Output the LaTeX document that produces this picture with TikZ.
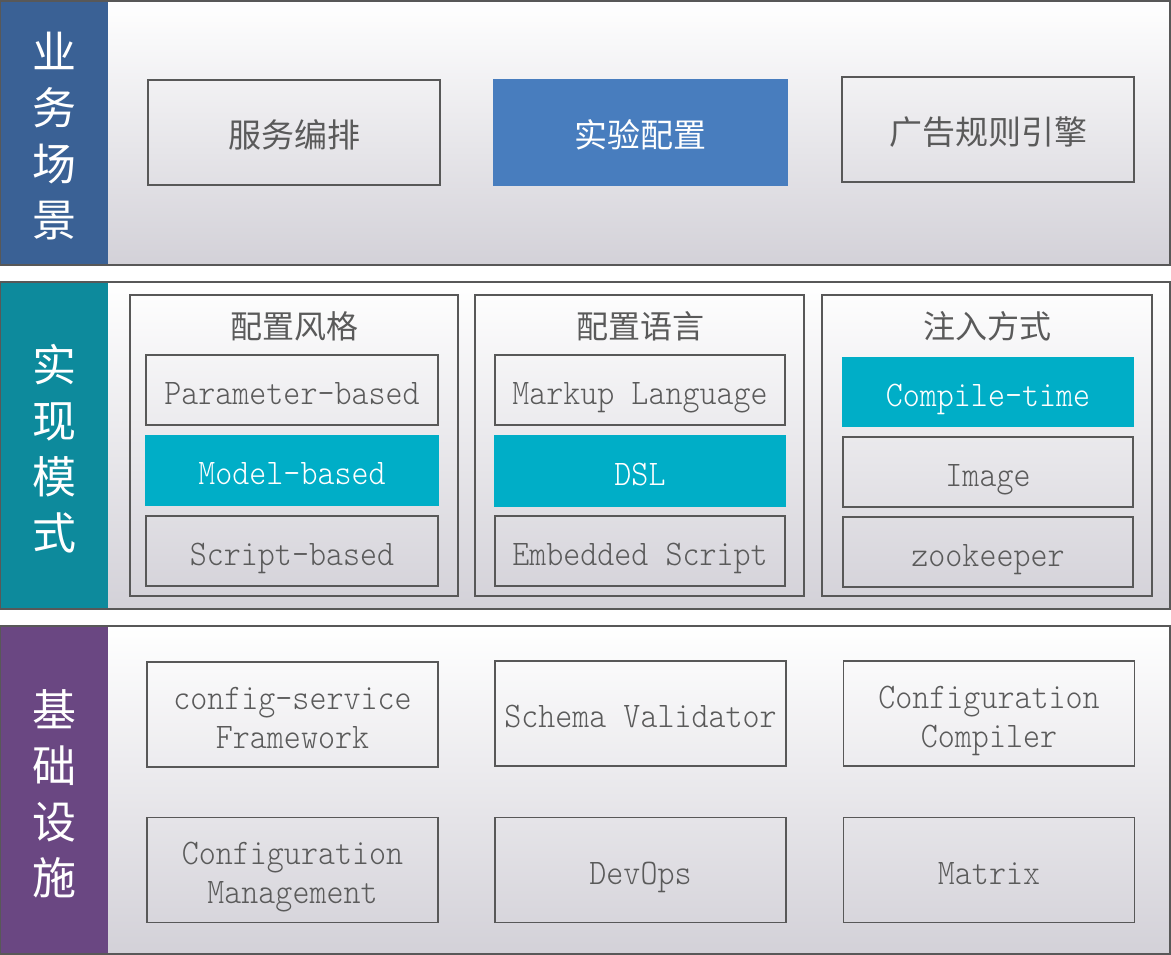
\documentclass[tikz,border=0pt]{standalone}
\usepackage{fontspec}
\newfontfamily\cjk{Noto Sans CJK SC}
\newfontfamily\mono[FakeStretch=0.9]{Latin Modern Mono Light}
\definecolor{edge}{HTML}{585858}
\definecolor{txt}{HTML}{5A5A5A}
\definecolor{sideA}{HTML}{3A6195}
\definecolor{sideB}{HTML}{0D8A9C}
\definecolor{sideC}{HTML}{6A4782}
\definecolor{hiA}{HTML}{487DBE}
\definecolor{hiB}{HTML}{00AEC7}
\definecolor{bandbot}{HTML}{D3D1D8}
\begin{document}
\begin{tikzpicture}[x=1pt,y=-1pt,
  bandbg/.style={top color=white,bottom color=bandbot},
  bandedge/.style={draw=edge,line width=1.8pt},
  sidetxt/.style={text=white,align=center,font=\cjk\fontsize{44}{56}\selectfont,inner sep=0pt},
  box/.style={draw=edge,line width=1.5pt,inner sep=0pt,text=txt},
  cnbox/.style={box,minimum width=292pt,minimum height=105pt,text height=31pt,text depth=0pt,font=\cjk\fontsize{33}{40}\selectfont},
  enbox/.style={box,minimum width=291pt,minimum height=105pt,text height=28pt,text depth=0pt,font=\mono\fontsize{36}{40}\selectfont},
  subbox/.style={box,minimum width=291pt,minimum height=70pt,text height=28pt,text depth=0pt,font=\mono\fontsize{36}{40}\selectfont},
  entext/.style={anchor=base,inner sep=0pt,text=txt,font=\mono\fontsize{36}{40}\selectfont},
  groupbox/.style={box,minimum height=301pt},
  grouptitle/.style={text=txt,inner sep=0pt,font=\cjk\fontsize{32}{40}\selectfont},
  hiAbox/.style={fill=hiA,draw=hiA,text=white},
  hiBbox/.style={fill=hiB,draw=hiB,text=white}
]
\useasboundingbox (0,0) rectangle (1171,955);
% ---------- band 1
\shade[bandbg] (108,1) rectangle (1170,265);
\fill[sideA] (0,1) rectangle (108,265);
\draw[bandedge] (0,1) rectangle (1170,265);
\node[sidetxt] (lab1) at (54,136) {业\\务\\场\\景};
\node[cnbox] (s1) at (294,132.5) {服务编排};
\node[cnbox,hiAbox,minimum width=293pt] (s2) at (640.5,132.5) {实验配置};
\node[cnbox] (s3) at (988,129.5) {广告规则引擎};
% ---------- band 2
\shade[bandbg] (108,282) rectangle (1170,609);
\fill[sideB] (0,282) rectangle (108,609);
\draw[bandedge] (0,282) rectangle (1170,609);
\node[sidetxt] (lab2) at (54,449) {实\\现\\模\\式};
\node[groupbox,minimum width=328pt] (g1) at (294,445.5) {};
\node[groupbox,minimum width=329pt] (g2) at (639.5,445.5) {};
\node[groupbox,minimum width=330pt] (g3) at (987,445.5) {};
\node[grouptitle] (t1) at (294,326.5) {配置风格};
\node[grouptitle] (t2) at (640,326.5) {配置语言};
\node[grouptitle] (t3) at (987,326.5) {注入方式};
\node[subbox,minimum width=292pt] (p1) at (292,390) {Parameter-based};
\node[subbox,minimum width=292pt,hiBbox] (p2) at (292,470.5) {Model-based};
\node[subbox,minimum width=292pt] (p3) at (292,551) {Script-based};
\node[subbox,minimum width=290pt] (l1) at (640,390) {Markup Language};
\node[subbox,minimum width=290pt,hiBbox] (l2) at (640,471) {DSL};
\node[subbox,minimum width=290pt] (l3) at (640,551) {Embedded Script};
\node[subbox,minimum width=290pt,hiBbox,minimum height=68pt] (i1) at (988,392) {Compile-time};
\node[subbox,minimum width=290pt] (i2) at (988,472) {Image};
\node[subbox,minimum width=290pt] (i3) at (988,552) {zookeeper};
% ---------- band 3
\shade[bandbg] (108,626) rectangle (1170,954);
\fill[sideC] (0,626) rectangle (108,954);
\draw[bandedge] (0,626) rectangle (1170,954);
\node[sidetxt] (lab3) at (54,794) {基\\础\\设\\施};
\node[enbox] (c1) at (292.5,714.5) {};
\node[entext] (c1a) at ([yshift=5pt]c1.center) {config-service};
\node[entext] (c1b) at ([yshift=-34pt]c1.center) {Framework};
\node[enbox] (c2) at (640.5,713.5) {Schema Validator};
\node[enbox] (c3) at (989,713.5) {};
\node[entext] (c3a) at ([yshift=5pt]c3.center) {Configuration};
\node[entext] (c3b) at ([yshift=-34pt]c3.center) {Compiler};
\node[enbox] (c4) at (292.5,870) {};
\node[entext] (c4a) at ([yshift=6pt]c4.center) {Configuration};
\node[entext] (c4b) at ([yshift=-33pt]c4.center) {Management};
\node[enbox] (c5) at (640.5,870) {DevOps};
\node[enbox] (c6) at (989,870) {Matrix};
\end{tikzpicture}
\end{document}
